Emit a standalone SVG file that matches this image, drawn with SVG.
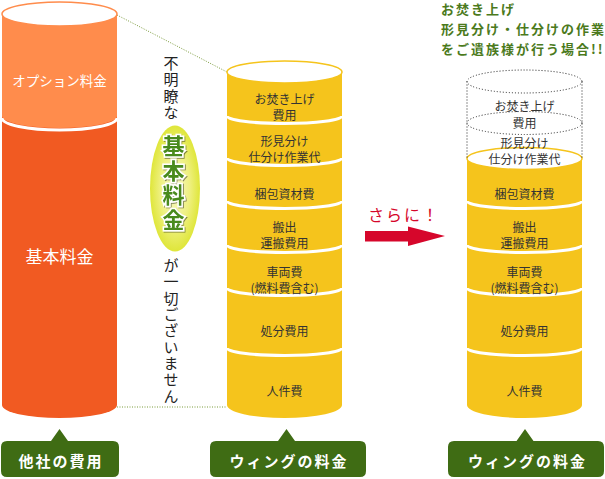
<svg xmlns="http://www.w3.org/2000/svg" width="605" height="479" viewBox="0 0 605 479">
<defs>
<style>
text{font-family:"Noto Sans CJK JP","Noto Sans",sans-serif;}
.seg{font-size:12px;fill:#333;text-anchor:middle;dominant-baseline:central;}
.sep{fill:none;stroke:#fff;stroke-width:3;}
.yel{fill:#F5C41C;}
.ytop{fill:#fff;stroke:#F5C41C;stroke-width:1.5;}
.dot{fill:none;stroke:#222;stroke-width:1;stroke-dasharray:1 2;}
.link{fill:none;stroke:#7a9a3a;stroke-width:1;stroke-dasharray:1 1.5;}
.lab{fill:#3F6C14;}
.labt{font-size:15px;font-weight:bold;fill:#fff;text-anchor:middle;dominant-baseline:central;letter-spacing:2px;}
.head{font-size:13px;font-weight:bold;fill:#4B7A1C;letter-spacing:2px;dominant-baseline:central;}
.vt{writing-mode:vertical-rl;font-size:15px;fill:#222;letter-spacing:1.3px;}
</style>
<radialGradient id="ov" cx="50%" cy="50%" r="50%">
<stop offset="0" stop-color="#f7f8cc"/>
<stop offset="0.6" stop-color="#eef07e"/>
<stop offset="1" stop-color="#dfe63a"/>
</radialGradient>
<filter id="sh" x="-20%" y="-20%" width="140%" height="140%">
<feDropShadow dx="1" dy="1" stdDeviation="0.6" flood-color="#000" flood-opacity="0.45"/>
</filter>
</defs>

<g id="connectors">
<path class="link" d="M117,15 L227,72"/>
<path class="link" d="M117,407 L227,407"/>
</g>

<g id="node-other">
<path d="M2,14 L2,405 A57.5,13 0 0 0 117,405 L117,14 Z" fill="#F15A22"/>
<path d="M2,14 L2,116 A57.5,12 0 0 0 117,116 L117,14 Z" fill="#FF8C4C"/>
<path class="sep" d="M2,118 A57.5,12 0 0 0 117,118" stroke-width="3.5"/>
<ellipse cx="59.5" cy="14" rx="57.5" ry="12" fill="#fff" stroke="#FF8C4C" stroke-width="1.5"/>
<text x="59.5" y="80" font-size="13.5" fill="#fff" text-anchor="middle" dominant-baseline="central">オプション料金</text>
<text x="59.5" y="255" font-size="17" fill="#fff" text-anchor="middle" dominant-baseline="central">基本料金</text>
</g>

<g id="node-note">
<text class="vt" x="171" y="56">不明瞭な</text>
<ellipse cx="175" cy="188.5" rx="25" ry="63" fill="url(#ov)"/>
<text x="173.5" y="135" style="writing-mode:vertical-rl;letter-spacing:2.5px" font-size="22" font-weight="bold" fill="#4A8A1C" stroke="#fff" stroke-width="3" paint-order="stroke" filter="url(#sh)">基本料金</text>
<text class="vt" x="171" y="258">が一切ございません</text>
</g>

<g id="node-wing">
<path class="yel" d="M227,72 L227,405 A57.5,13 0 0 0 342,405 L342,72 Z"/>
<ellipse class="ytop" cx="284.5" cy="72" rx="57.5" ry="11"/>
<path class="sep" d="M227,116 A57.5,7.5 0 0 0 342,116"/>
<path class="sep" d="M227,158 A57.5,7.5 0 0 0 342,158"/>
<path class="sep" d="M227,201 A57.5,7.5 0 0 0 342,201"/>
<path class="sep" d="M227,245 A57.5,7.5 0 0 0 342,245"/>
<path class="sep" d="M227,288 A57.5,7.5 0 0 0 342,288"/>
<path class="sep" d="M227,348 A57.5,7.5 0 0 0 342,348"/>
<text class="seg" x="284.5" y="98.5">お焚き上げ</text>
<text class="seg" x="284.5" y="114.5">費用</text>
<text class="seg" x="284.5" y="140.5">形見分け</text>
<text class="seg" x="284.5" y="156.5">仕分け作業代</text>
<text class="seg" x="284.5" y="193">梱包資材費</text>
<text class="seg" x="284.5" y="226.5">搬出</text>
<text class="seg" x="284.5" y="242">運搬費用</text>
<text class="seg" x="284.5" y="271.5">車両費</text>
<text class="seg" x="284.5" y="287">(燃料費含む)</text>
<text class="seg" x="284.5" y="330.5">処分費用</text>
<text class="seg" x="284.5" y="390">人件費</text>
</g>

<g id="node-more">
<text x="368" y="214" font-size="16" fill="#D6062B" letter-spacing="2" dominant-baseline="central">さらに！</text>
<polygon points="365,231 408,231 408,226.5 445,236 408,246 408,241.5 365,241.5" fill="#D6062B"/>
</g>

<g id="node-family">
<text class="head" x="441" y="8.5">お焚き上げ</text>
<text class="head" x="441" y="28.5">形見分け・仕分けの作業</text>
<text class="head" x="441" y="48">をご遺族様が行う場合!!</text>
</g>

<g id="node-wing2">
<path class="yel" d="M467,158 L467,405 A57.5,13 0 0 0 582,405 L582,158 Z"/>
<ellipse class="ytop" cx="524.5" cy="158.5" rx="57.5" ry="11"/>
<path class="sep" d="M467,201 A57.5,7.5 0 0 0 582,201"/>
<path class="sep" d="M467,245 A57.5,7.5 0 0 0 582,245"/>
<path class="sep" d="M467,288 A57.5,7.5 0 0 0 582,288"/>
<path class="sep" d="M467,348 A57.5,7.5 0 0 0 582,348"/>
<ellipse class="dot" cx="524.5" cy="81.5" rx="57.5" ry="11.5"/>
<ellipse class="dot" cx="524.5" cy="123" rx="57.5" ry="11.5"/>
<line class="dot" x1="467" y1="81.5" x2="467" y2="158"/>
<line class="dot" x1="582" y1="81.5" x2="582" y2="158"/>
<text class="seg" x="524.5" y="105.5">お焚き上げ</text>
<text class="seg" x="524.5" y="122">費用</text>
<text class="seg" x="524.5" y="142">形見分け</text>
<text class="seg" x="524.5" y="158.5">仕分け作業代</text>
<text class="seg" x="524.5" y="193">梱包資材費</text>
<text class="seg" x="524.5" y="226.5">搬出</text>
<text class="seg" x="524.5" y="242">運搬費用</text>
<text class="seg" x="524.5" y="271.5">車両費</text>
<text class="seg" x="524.5" y="287">(燃料費含む)</text>
<text class="seg" x="524.5" y="330.5">処分費用</text>
<text class="seg" x="524.5" y="390">人件費</text>
</g>

<g id="label-other">
<path class="lab" d="M7,441 L51,441 L59.5,429 L68,441 L113,441 Q119,441 119,447 L119,471 Q119,477 113,477 L7,477 Q1,477 1,471 L1,447 Q1,441 7,441 Z"/>
<text class="labt" x="61" y="460">他社の費用</text>
</g>
<g id="label-wing">
<path class="lab" d="M216,441 L278,441 L286.5,429 L295,441 L360,441 Q366,441 366,447 L366,471 Q366,477 360,477 L216,477 Q210,477 210,471 L210,447 Q210,441 216,441 Z"/>
<text class="labt" x="289" y="460">ウィングの料金</text>
</g>
<g id="label-wing2">
<path class="lab" d="M454,441 L516.5,441 L525,429 L533.5,441 L598,441 Q604,441 604,447 L604,471 Q604,477 598,477 L454,477 Q448,477 448,471 L448,447 Q448,441 454,441 Z"/>
<text class="labt" x="527.5" y="460">ウィングの料金</text>
</g>
</svg>
